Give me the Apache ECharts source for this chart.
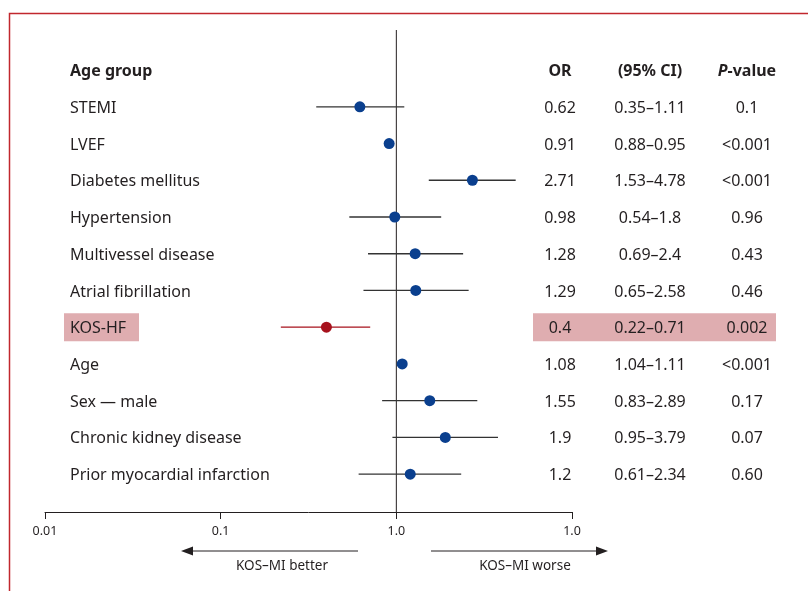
<!DOCTYPE html>
<html>
<head>
<meta charset="utf-8">
<script src="https://cdn.jsdelivr.net/npm/echarts@6/dist/echarts.min.js"></script>
<style>
  html, body { margin: 0; padding: 0; background: #fff; }
  #chart { width: 808px; height: 591px; }
</style>
</head>
<body>
<div id="chart"></div>
<script>
// Forest plot: odds ratios with 95% confidence intervals on a log scale
const categories = ['STEMI', 'LVEF', 'Diabetes mellitus', 'Hypertension', 'Multivessel disease',
  'Atrial fibrillation', 'KOS-HF', 'Age', 'Sex \u2014 male', 'Chronic kidney disease',
  'Prior myocardial infarction'];
const oddsRatio = [0.62, 0.91, 2.71, 0.98, 1.28, 1.29, 0.4, 1.08, 1.55, 1.9, 1.2];
const ciLow = [0.35, 0.88, 1.53, 0.54, 0.69, 0.65, 0.22, 1.04, 0.83, 0.95, 0.61];
const ciHigh = [1.11, 0.95, 4.78, 1.8, 2.4, 2.58, 0.71, 1.11, 2.89, 3.79, 2.34];
const pValues = ['0.1', '<0.001', '<0.001', '0.96', '0.43', '0.46', '0.002', '<0.001', '0.17', '0.07', '0.60'];
const tickLabels = ['0.01', '0.1', '1.0', '1.0'];
const highlighted = 'KOS-HF';

const FONT = '"Noto Sans", "Open Sans", sans-serif';
const INK = '#231f20';
const BLUE = '#0a3f8e';
const RED = '#a7121d';
const FRAME = '#c1272d';
const HILITE = '#dfadb0';
const TEXT_SIZE = 16;
const TEXT_DY = 1.5;

// Layout (pixel columns of the table overlay)
const col = { label: 70, or: 560, ci: 650, p: 747 };
const Y_MIN = -1.09, Y_MAX = 12.03;

const rowOf = i => i + 1;
const hiIdx = categories.indexOf(highlighted);

function textItem(api, x, row, text, align, bold, color) {
  const pt = api.coord([x, row]);
  return {
    type: 'text', x: pt[0], y: pt[1] + TEXT_DY,
    style: {
      text: text, textAlign: align, textVerticalAlign: 'middle',
      font: (bold ? 'bold ' : '') + TEXT_SIZE + 'px ' + FONT, fill: color || INK
    }
  };
}

const chart = echarts.init(document.getElementById('chart'), null, { renderer: 'canvas' });

const option = {
  animation: false,
  backgroundColor: '#fff',
  grid: [
    { left: 45, right: 236, top: 30, height: 482 },
    { left: 0, right: 0, top: 30, height: 482 }
  ],
  xAxis: [
    {
      gridIndex: 0, type: 'log', logBase: 10, min: 0.01, max: 10,
      axisLine: { show: true, onZero: false, lineStyle: { color: INK, width: 1 } },
      axisTick: { show: true, length: 7, lineStyle: { color: INK, width: 1 } },
      minorTick: { show: false },
      splitLine: { show: false },
      axisLabel: {
        margin: 13, color: INK, fontSize: 12.5, fontFamily: FONT,
        formatter: v => tickLabels[Math.round(Math.log10(v)) + 2]
      }
    },
    { gridIndex: 1, type: 'value', min: 0, max: 808, show: false }
  ],
  yAxis: [
    { gridIndex: 0, type: 'value', min: Y_MIN, max: Y_MAX, inverse: true, show: false },
    { gridIndex: 1, type: 'value', min: Y_MIN, max: Y_MAX, inverse: true, show: false }
  ],
  series: [
    // highlight bands behind the KOS-HF row
    {
      type: 'custom', xAxisIndex: 1, yAxisIndex: 1, z: 1, silent: true,
      data: [[64, 139], [533, 776]],
      renderItem: (params, api) => {
        const a = api.coord([api.value(0), rowOf(hiIdx) - 0.38]);
        const b = api.coord([api.value(1), rowOf(hiIdx) + 0.38]);
        return { type: 'rect', shape: { x: a[0], y: a[1], width: b[0] - a[0], height: b[1] - a[1] },
          style: { fill: HILITE } };
      }
    },
    // line of no effect at OR = 1
    {
      type: 'line', xAxisIndex: 0, yAxisIndex: 0, z: 2, symbol: 'none', silent: true,
      data: [[1, Y_MIN], [1, Y_MAX]],
      lineStyle: { color: INK, width: 1 }
    },
    // confidence interval whiskers
    {
      type: 'custom', xAxisIndex: 0, yAxisIndex: 0, z: 3, silent: true,
      data: categories.map((c, i) => [ciLow[i], ciHigh[i], rowOf(i)]),
      renderItem: (params, api) => {
        const a = api.coord([api.value(0), api.value(2)]);
        const b = api.coord([api.value(1), api.value(2)]);
        const isHi = params.dataIndex === hiIdx;
        return { type: 'line', shape: { x1: a[0], y1: a[1], x2: b[0], y2: b[1] },
          style: { stroke: isHi ? RED : '#333333', lineWidth: 1.3 } };
      }
    },
    // point estimates
    {
      type: 'scatter', xAxisIndex: 0, yAxisIndex: 0, z: 4, symbol: 'circle', symbolSize: 11,
      data: categories.map((c, i) => ({
        value: [oddsRatio[i], rowOf(i)],
        itemStyle: { color: i === hiIdx ? RED : BLUE, opacity: 1 }
      }))
    },
    // table text: header + rows
    {
      type: 'custom', xAxisIndex: 1, yAxisIndex: 1, z: 5, silent: true,
      data: [[0, 0]].concat(categories.map((c, i) => [0, rowOf(i)])),
      renderItem: (params, api) => {
        const row = api.value(1);
        if (params.dataIndex === 0) {
          const pPt = api.coord([col.p, row]);
          return { type: 'group', children: [
            textItem(api, col.label, row, 'Age group', 'left', true),
            textItem(api, col.or, row, 'OR', 'center', true),
            textItem(api, col.ci, row, '(95% CI)', 'center', true),
            { type: 'text', x: pPt[0], y: pPt[1] + TEXT_DY, style: {
              text: '{i|P}{b|-value}', textAlign: 'center', textVerticalAlign: 'middle',
              rich: {
                i: { font: 'italic bold ' + TEXT_SIZE + 'px ' + FONT, fill: INK },
                b: { font: 'bold ' + TEXT_SIZE + 'px ' + FONT, fill: INK }
              } } }
          ] };
        }
        const i = params.dataIndex - 1;
        return { type: 'group', children: [
          textItem(api, col.label, row, categories[i], 'left', false),
          textItem(api, col.or, row, String(oddsRatio[i]), 'center', false),
          textItem(api, col.ci, row, ciLow[i] + '\u2013' + ciHigh[i], 'center', false),
          textItem(api, col.p, row, pValues[i], 'center', false)
        ] };
      }
    }
  ],
  graphic: [
    // frame
    { type: 'polyline', silent: true, z: 10,
      shape: { points: [[9.5, 591], [9.5, 13.5], [808, 13.5]] },
      style: { stroke: FRAME, lineWidth: 1.5, fill: null } },
    // direction arrows
    { type: 'line', shape: { x1: 358, y1: 551, x2: 190, y2: 551 }, style: { stroke: INK, lineWidth: 1 } },
    { type: 'polygon', shape: { points: [[181, 551], [193, 546.5], [193, 555.5]] }, style: { fill: INK } },
    { type: 'text', x: 282, y: 566, style: { text: 'KOS\u2013MI better', textAlign: 'center',
      textVerticalAlign: 'middle', font: '13.5px ' + FONT, fill: INK } },
    { type: 'line', shape: { x1: 431, y1: 551, x2: 599, y2: 551 }, style: { stroke: INK, lineWidth: 1 } },
    { type: 'polygon', shape: { points: [[608, 551], [596, 546.5], [596, 555.5]] }, style: { fill: INK } },
    { type: 'text', x: 525, y: 566, style: { text: 'KOS\u2013MI worse', textAlign: 'center',
      textVerticalAlign: 'middle', font: '13.5px ' + FONT, fill: INK } }
  ]
};

chart.setOption(option);
</script>
</body>
</html>
